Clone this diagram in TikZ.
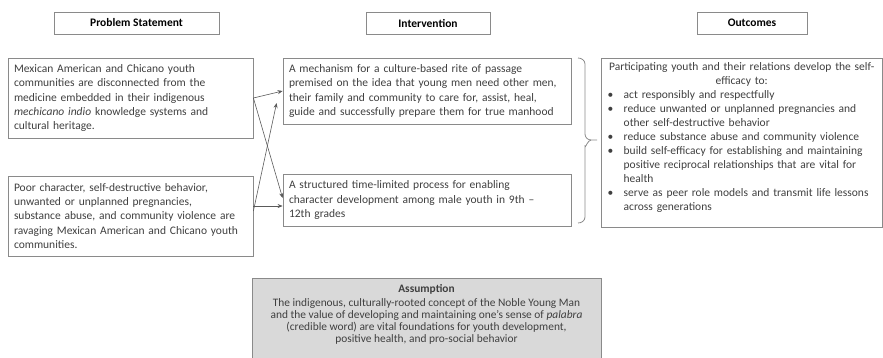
\documentclass[tikz,border=0pt]{standalone}
\usepackage{fontspec}
\setmainfont{Carlito}
\usetikzlibrary{arrows.meta}
\definecolor{txtgray}{HTML}{3F3F3F}
\definecolor{linegray}{HTML}{8A8A8A}
\definecolor{arrowgray}{HTML}{5A5A5A}
\definecolor{asmfill}{HTML}{D9D9D9}
\newcommand{\outbul}{\makebox[16pt][l]{\textbullet}}
\newcommand{\outind}{\hspace*{16pt}}
\lineskiplimit=-10pt

\begin{document}
\begin{tikzpicture}[x=1pt, y=-1pt,
    hdrbox/.style={draw=linegray, line width=0.8pt, minimum height=22pt, inner sep=0pt,
        font=\bfseries\fontsize{11.5}{13}\selectfont},
    txtbox/.style={draw=linegray, line width=0.8pt, inner xsep=6pt, inner ysep=0pt,
        align=left, text=txtgray, font=\fontsize{11.5}{14.3}\selectfont},
    frame/.style={draw=linegray, line width=0.8pt, inner sep=0pt},
    link/.style={-{Stealth[length=5pt,width=4pt]}, arrowgray, line width=0.6pt}]

        \useasboundingbox (0,0) rectangle (883,357);

        % Column headings
        \node[hdrbox, minimum width=165pt] (probhd) at (136.5,23) {Problem Statement};
        \node[hdrbox, minimum width=124pt] (inthd) at (428,23) {Intervention};
        \node[hdrbox, minimum width=110pt] (outhd) at (752,23) {Outcomes};

        % Problem statements
        \node[txtbox, text width=233pt, minimum height=80pt] (prob1) at (130.5,98)
        {\mbox{Mexican American and Chicano youth}\\
         \mbox{communities are disconnected from the}\\
         \mbox{medicine embedded in their indigenous}\\
         \mbox{\textit{mechicano indio} knowledge systems and}\\
         \mbox{cultural heritage.}};
        \node[txtbox, text width=233pt, minimum height=80pt] (prob2) at (130.5,216)
        {\mbox{Poor character, self-destructive behavior,}\\
         \mbox{unwanted or unplanned pregnancies,}\\
         \mbox{substance abuse, and community violence are}\\
         \mbox{ravaging Mexican American and Chicano youth}\\
         \mbox{communities.}};

        % Interventions
        \node[txtbox, text width=276pt, minimum height=66pt] (int1) at (427,91)
        {\mbox{A mechanism for a culture-based rite of passage}\\
         \mbox{premised on the idea that young men need other men,}\\
         \mbox{their family and community to care for, assist, heal,}\\
         \mbox{guide and successfully prepare them for true manhood}};
        \node[txtbox, text width=276pt, minimum height=52pt] (int2) at (427,200)
        {\mbox{A structured time-limited process for enabling}\\
         \mbox{character development among male youth in 9th –}\\
         \mbox{12th grades}};

        % Outcomes
        \node[frame, minimum width=281.5pt, minimum height=169pt] (out) at (741.75,142.5) {};
        \node[anchor=north west, inner sep=0pt, text width=268pt, align=left, text=txtgray,
            font=\fontsize{11.5}{14}\selectfont] (outtxt) at (607.5,62.5)
        {\makebox[268pt]{Participating youth and their relations develop the self-}\\
         \makebox[268pt]{efficacy to:}\\
         \mbox{\outbul act responsibly and respectfully}\\
         \mbox{\outbul reduce unwanted or unplanned pregnancies and}\\
         \mbox{\outind other self-destructive behavior}\\
         \mbox{\outbul reduce substance abuse and community violence}\\
         \mbox{\outbul build self-efficacy for establishing and maintaining}\\
         \mbox{\outind positive reciprocal relationships that are vital for}\\
         \mbox{\outind health}\\
         \mbox{\outbul serve as peer role models and transmit life lessons}\\
         \mbox{\outind across generations}};

        % Links from problems to interventions
        \draw[link] (prob1.east) -- (int1.west);
        \draw[link] (prob1.east) -- ([yshift=2pt]int2.west);
        \draw[link] ([yshift=5pt]prob2.east) -- ([xshift=-6pt,yshift=-12pt]int1.west);
        \draw[link] ([yshift=10pt]prob2.east) -- ([yshift=-6pt]int2.west);

        % Brace joining the interventions
        \draw[linegray, line width=0.8pt] (578,58) to[out=0,in=90] (585,64) -- (585,134)
            to[out=-90,in=180] (591,140) -- (597,140);
        \draw[linegray, line width=0.8pt] (591,140) to[out=180,in=-90] (585,146) -- (585,217)
            to[out=-90,in=0] (578,223);

        % Assumption panel
        \node[frame, fill=asmfill, anchor=north, minimum width=349pt, minimum height=84pt] (asmbox) at (426.5,278) {};
        \node[anchor=north, align=center, inner sep=0pt, text=txtgray,
            font=\fontsize{11.4}{12}\selectfont] (asm) at (426.5,284.5)
        {\textbf{Assumption}\\[2pt]
         The indigenous, culturally-rooted concept of the Noble Young Man\\
         and the value of developing and maintaining one’s sense of \textit{palabra}\\
         (credible word) are vital foundations for youth development,\\
         positive health, and pro-social behavior};
    \end{tikzpicture}
\end{document}
